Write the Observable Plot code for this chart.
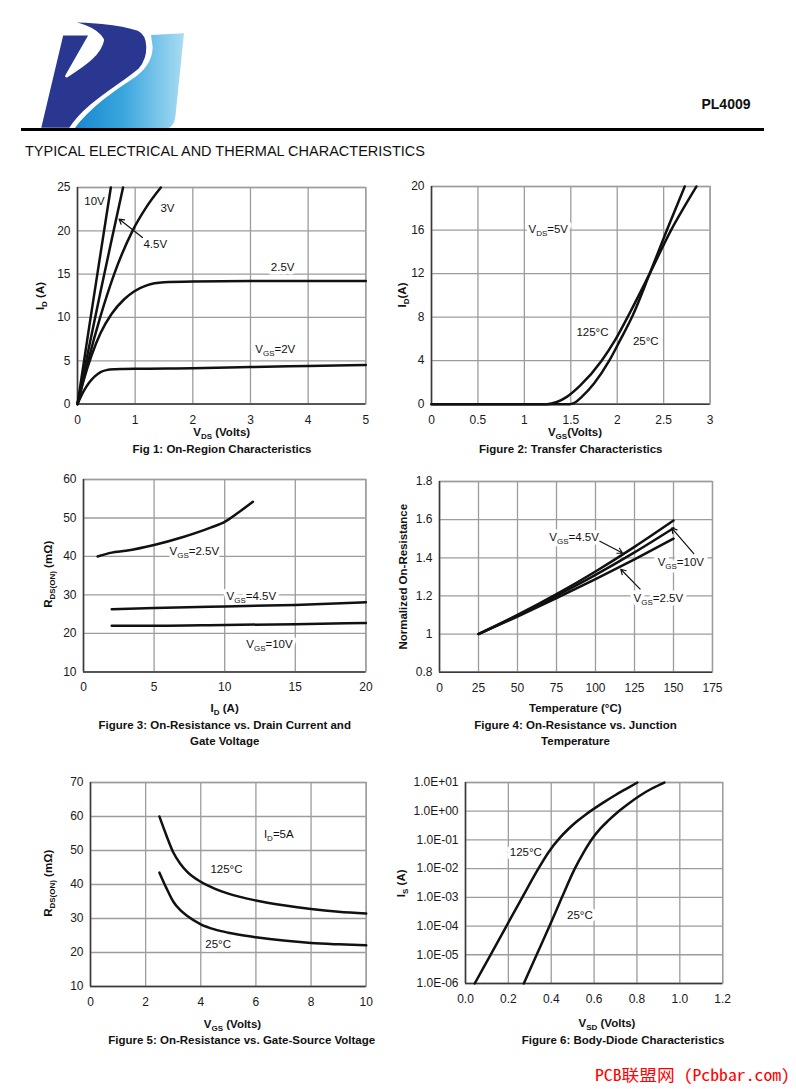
<!DOCTYPE html>
<html><head><meta charset="utf-8">
<script src="https://cdn.jsdelivr.net/npm/d3@7"></script>
<script src="https://cdn.jsdelivr.net/npm/@observablehq/plot@0.6"></script>
<style>
html,body{margin:0;padding:0;background:#fff;}
#page{position:relative;width:796px;height:1089px;overflow:hidden;background:#fff;}
</style></head><body><div id="page"></div>
<script>
// ---------------- DATA ----------------
// Fig 1: On-Region Characteristics (VDS in V, ID in A)
const fig1Vds10 = [0, 0.2, 0.4, 0.578];
const fig1Id10  = [0, 8.8, 17.4, 25];
const fig1Vds45 = [0, 0.2, 0.4, 0.6, 0.79];
const fig1Id45  = [0, 6.6, 13.0, 19.2, 25];
const fig1Vds3  = [0, 0.185, 0.393, 0.636, 0.954, 1.2, 1.445];
const fig1Id3   = [0, 5, 10, 15, 20, 22.8, 25];
const fig1Vds25 = [0, 0.1, 0.243, 0.4, 0.59, 0.81, 0.98, 1.2, 1.5, 2, 3, 4, 5];
const fig1Id25  = [0, 2.6, 5.6, 8.2, 10.4, 12.1, 13.0, 13.7, 14.05, 14.15, 14.2, 14.2, 14.2];
const fig1Vds2  = [0, 0.1, 0.2, 0.3, 0.4, 0.5, 0.65, 0.8, 1, 2, 3, 4, 5];
const fig1Id2   = [0, 1.4, 2.45, 3.2, 3.7, 3.92, 4.02, 4.05, 4.08, 4.15, 4.28, 4.4, 4.52];
const fig1XTicks = [0, 1, 2, 3, 4, 5];
const fig1YTicks = [0, 5, 10, 15, 20, 25];
const fig1Labels = [
  {x: 0.295, y: 23.46, t: "10V"}, {x: 1.56, y: 22.6, t: "3V"},
  {x: 1.348, y: 18.46, t: "4.5V"}, {x: 3.558, y: 15.84, t: "2.5V"},
  {x: 3.43, y: 6.27, t: "V_{GS}=2V"}];
const fig1Arrows = [{x1: 1.126, y1: 19.24, x2: 0.72, y2: 21.36}];

// Fig 2: Transfer Characteristics (VGS in V, ID in A)
const fig2Vgs125 = [0, 1.243, 1.35, 1.457, 1.6, 1.832, 1.975, 2.136, 2.35, 2.58, 2.72, 2.853];
const fig2Id125  = [0, 0, 0.2, 0.67, 1.7, 4, 5.86, 8.4, 12, 16, 18.1, 20];
const fig2Vgs25  = [0, 1.493, 1.55, 1.618, 1.75, 1.914, 2.03, 2.164, 2.35, 2.535, 2.727];
const fig2Id25   = [0, 0, 0.18, 0.67, 1.9, 4, 5.86, 8.1, 12, 16, 20];
const fig2XTicks = [0, 0.5, 1, 1.5, 2, 2.5, 3];
const fig2YTicks = [0, 4, 8, 12, 16, 20];
const fig2Labels = [
  {x: 1.257, y: 16.11, t: "V_{DS}=5V"}, {x: 1.733, y: 6.61, t: "125°C"},
  {x: 2.307, y: 5.79, t: "25°C"}];

// Fig 3: On-Resistance vs Drain Current (ID in A, R in mOhm)
const fig3Id25 = [1, 2, 3, 5, 7, 9, 10, 11, 12];
const fig3R25  = [40, 41, 41.5, 43, 45, 47.5, 49, 51.5, 54.2];
const fig3Id45 = [2, 5, 10, 15, 20];
const fig3R45  = [26.3, 26.6, 27, 27.4, 28.1];
const fig3Id10 = [2, 5, 10, 15, 20];
const fig3R10  = [22, 22, 22.2, 22.4, 22.7];
const fig3XTicks = [0, 5, 10, 15, 20];
const fig3YTicks = [10, 20, 30, 40, 50, 60];
const fig3Labels = [
  {x: 7.85, y: 41.4, t: "V_{GS}=2.5V"}, {x: 11.89, y: 29.7, t: "V_{GS}=4.5V"},
  {x: 13.17, y: 17.2, t: "V_{GS}=10V"}];

// Fig 4: Normalized On-Resistance vs Temperature
const fig4T   = [25, 50, 75, 100, 125, 150];
const fig4R45 = [1, 1.10, 1.209, 1.328, 1.457, 1.595];
const fig4R10 = [1, 1.096, 1.2, 1.31, 1.428, 1.555];
const fig4R25 = [1, 1.092, 1.188, 1.288, 1.392, 1.50];
const fig4XTicks = [0, 25, 50, 75, 100, 125, 150, 175];
const fig4YTicks = [0.8, 1, 1.2, 1.4, 1.6, 1.8];
const fig4Labels = [
  {x: 86.3, y: 1.508, t: "V_{GS}=4.5V"}, {x: 154.7, y: 1.377, t: "V_{GS}=10V"},
  {x: 140.3, y: 1.188, t: "V_{GS}=2.5V"}];
const fig4Arrows = [
  {x1: 102.8, y1: 1.487, x2: 117.3, y2: 1.425},
  {x1: 163, y1: 1.422, x2: 148.9, y2: 1.556},
  {x1: 128.6, y1: 1.236, x2: 116.2, y2: 1.34}];

// Fig 5: On-Resistance vs Gate-Source Voltage
const fig5Vgs  = [2.5, 2.75, 3, 3.25, 3.5, 4, 4.5, 5, 6, 7, 8, 9, 10];
const fig5R125 = [60, 54.5, 49.5, 46.2, 43.8, 40.8, 38.8, 37.3, 35.3, 33.9, 32.8, 32, 31.5];
const fig5R25  = [43.5, 39, 35, 32.5, 30.8, 28.3, 26.8, 25.8, 24.5, 23.5, 22.8, 22.4, 22.1];
const fig5XTicks = [0, 2, 4, 6, 8, 10];
const fig5YTicks = [10, 20, 30, 40, 50, 60, 70];
const fig5Labels = [
  {x: 6.83, y: 54.8, t: "I_{D}=5A"}, {x: 4.93, y: 44.5, t: "125°C"},
  {x: 4.63, y: 22.5, t: "25°C"}];

// Fig 6: Body-Diode Characteristics (VSD in V, IS in A)
const fig6Vsd125 = [0.043, 0.117, 0.191, 0.265, 0.34, 0.39, 0.44, 0.48, 0.519, 0.56, 0.6, 0.65, 0.7, 0.75, 0.802];
const fig6Is125  = [1e-6, 1e-5, 1e-4, 1e-3, 1e-2, 0.0398, 0.1175, 0.24, 0.437, 0.759, 1.23, 2.16, 3.67, 6.03, 10];
const fig6Vsd25  = [0.272, 0.332, 0.392, 0.45, 0.51, 0.55, 0.592, 0.63, 0.666, 0.715, 0.765, 0.813, 0.87, 0.928];
const fig6Is25   = [1e-6, 1e-5, 1e-4, 1e-3, 1e-2, 0.0355, 0.112, 0.251, 0.468, 1, 1.95, 3.47, 6.17, 10];
const fig6XTicks = [0, 0.2, 0.4, 0.6, 0.8, 1.0, 1.2];
const fig6YTicks = [1e-6, 1e-5, 1e-4, 1e-3, 1e-2, 1e-1, 1, 10];
const fig6Labels = [{x: 0.2815, y: 0.0383, t: "125°C"}, {x: 0.5336, y: 2.39e-4, t: "25°C"}];

// ---------------- HELPERS ----------------
const FONT = '"Liberation Sans", Arial, Helvetica, sans-serif';
const SVGNS = "http://www.w3.org/2000/svg";
const rows = (xs, ys, s) => xs.map((x, i) => ({x, y: ys[i], s}));

function fillRich(el, str, subSize, shift) {
  const parts = str.split(/(_\{[^}]*\})/).filter(Boolean);
  el.textContent = "";
  let down = false;
  for (const p of parts) {
    const ts = document.createElementNS(SVGNS, "tspan");
    if (p.startsWith("_{")) {
      ts.textContent = p.slice(2, -1);
      ts.setAttribute("font-size", subSize);
      ts.setAttribute("dy", shift);
      down = true;
    } else {
      ts.textContent = p;
      if (down) { ts.setAttribute("dy", -shift); down = false; }
    }
    el.appendChild(ts);
  }
}

const page = document.getElementById("page");
const ov = d3.select(page).append("svg")
  .attr("width", 796).attr("height", 1089)
  .style("position", "absolute").style("left", "0px").style("top", "0px");

function txt(str, x, y, o = {}) {
  const t = ov.append("text").attr("x", x).attr("y", y)
    .attr("font-family", o.family || FONT).attr("font-size", o.size || 11.5)
    .attr("font-weight", o.weight || "bold").attr("text-anchor", o.anchor || "middle")
    .attr("fill", o.fill || "#111");
  if (o.rotate) t.attr("transform", `rotate(-90 ${x} ${y})`);
  if (o.len) t.attr("textLength", o.len).attr("lengthAdjust", "spacingAndGlyphs");
  fillRich(t.node(), str, o.sub || 8, o.shift || 3);
  return t;
}

const GRID = "#9c9c9c";
function chart(cfg) {
  const ML = 60, MT = 12, MR = 16, MB = 32;
  const w = cfg.r - cfg.l, h = cfg.b - cfg.t;
  const xs = cfg.xTicks, ys = cfg.yTicks;
  const marks = [
    Plot.ruleX(xs, {stroke: GRID, strokeWidth: 1.3}),
    Plot.ruleY(ys, {stroke: GRID, strokeWidth: 1.3}),
    Plot.frame({stroke: GRID, strokeWidth: 1.3}),
    Plot.ruleX([xs[0]], {stroke: "#3a3a3a", strokeWidth: 1.5}),
    Plot.ruleY([ys[0]], {stroke: "#3a3a3a", strokeWidth: 1.5}),
    // white background behind annotation text
    Plot.text(cfg.labels, {x: "x", y: "y", text: "t", fontSize: 11.5, fill: "white",
      stroke: "white", strokeWidth: 7, strokeLinejoin: "round", textAnchor: "middle"}),
    Plot.line(cfg.data, {x: "x", y: "y", z: "s", stroke: "#111", strokeWidth: 2.5,
      curve: "monotone-x", strokeLinejoin: "round", strokeLinecap: "round"}),
    Plot.text(cfg.labels, {x: "x", y: "y", text: "t", fontSize: 11.5, fill: "#111", textAnchor: "middle"})
  ];
  if (cfg.arrows) marks.push(Plot.arrow(cfg.arrows, {x1: "x1", y1: "y1", x2: "x2", y2: "y2",
    stroke: "#111", strokeWidth: 1.2, headLength: 7}));
  const svg = Plot.plot({
    width: w + ML + MR, height: h + MT + MB,
    marginLeft: ML, marginTop: MT, marginRight: MR, marginBottom: MB,
    style: {fontFamily: FONT, fontSize: "12px", color: "#1a1a1a", background: "transparent", overflow: "visible"},
    x: {type: "linear", domain: cfg.xDomain, ticks: xs, tickFormat: cfg.xFormat || (d => String(d)),
        tickSize: 0, tickPadding: 11, label: null},
    y: {type: cfg.yType || "linear", domain: cfg.yDomain, ticks: ys, tickFormat: cfg.yFormat || (d => String(d)),
        tickSize: 0, tickPadding: 7, label: null},
    marks
  });
  svg.style.position = "absolute";
  svg.style.left = (cfg.l - ML) + "px";
  svg.style.top = (cfg.t - MT) + "px";
  svg.querySelectorAll("text").forEach(t => {
    if (t.textContent.includes("_{")) fillRich(t, t.textContent, 8, 3);
  });
  page.appendChild(svg);
}

// ---------------- PAGE DECORATION ----------------
const defs = ov.append("defs");
const grad = defs.append("linearGradient").attr("id", "lb").attr("x1", "0").attr("x2", "1").attr("y1", "0").attr("y2", "0");
grad.append("stop").attr("offset", "0").attr("stop-color", "#1786cc");
grad.append("stop").attr("offset", "0.45").attr("stop-color", "#3aa6de");
grad.append("stop").attr("offset", "1").attr("stop-color", "#a9dcf3");
const logo = ov.append("g").attr("transform", "translate(20,20) scale(0.3333)");
logo.append("path").attr("fill", "url(#lb)")
  .attr("d", "M393 45 L492 40 L466 292 C462 318 450 328 425 328 L160 330 C210 262 280 215 350 168 C385 140 398 110 398 80 Z");
logo.append("path").attr("fill", "#2a3791").attr("stroke", "white").attr("stroke-width", 9).attr("stroke-linejoin", "round")
  .attr("d", "M58 328 L126 42 L212 42 L140 168 C200 130 240 100 248 60 C230 25 170 8 118 3 C200 0 300 10 355 28 C392 45 392 110 360 148 C300 200 200 250 150 328 Z");

txt("PL4009", 750.5, 108.5, {size: 14, anchor: "end"});
ov.append("line").attr("x1", 21).attr("x2", 764).attr("y1", 129.5).attr("y2", 129.5)
  .attr("stroke", "#000").attr("stroke-width", 3);
txt("TYPICAL ELECTRICAL AND THERMAL CHARACTERISTICS", 25, 156, {size: 14.4, weight: "normal", anchor: "start", len: 400});

// axis titles and captions
txt("V_{DS} (Volts)", 221.7, 435.5);
txt("I_{D} (A)", 44, 296, {rotate: true});
txt("Fig 1: On-Region Characteristics", 222, 452.7);

txt("V_{GS}(Volts)", 575, 435.5);
txt("I_{D}(A)", 405.5, 295, {rotate: true});
txt("Figure 2: Transfer Characteristics", 570.8, 452.7);

txt("I_{D} (A)", 224.7, 712.3);
txt("R_{DS(ON)} (mΩ)", 52.5, 574.3, {rotate: true});
txt("Figure 3: On-Resistance vs. Drain Current and", 224.7, 729.3);
txt("Gate Voltage", 224.7, 745.3);

txt("Temperature (°C)", 575.3, 712.3);
txt("Normalized On-Resistance", 406.7, 576.7, {rotate: true});
txt("Figure 4: On-Resistance vs. Junction", 575.5, 729.3);
txt("Temperature", 575.5, 745.3);

txt("V_{GS} (Volts)", 232.5, 1027.7);
txt("R_{DS(ON)} (mΩ)", 52.5, 883.3, {rotate: true});
txt("Figure 5: On-Resistance vs. Gate-Source Voltage", 241.7, 1044.3);

txt("V_{SD} (Volts)", 607, 1026.7);
txt("I_{S} (A)", 405.5, 883.3, {rotate: true});
txt("Figure 6: Body-Diode Characteristics", 623, 1044.3);

txt("PCB联盟网 (Pcbbar.com)", 595, 1081, {size: 16, weight: "normal", anchor: "start", fill: "#ff0000",
  family: '"Noto Sans Mono CJK SC", "Noto Sans CJK SC", monospace', len: 195});

// ---------------- CHARTS ----------------
chart({l: 76.7, r: 365, t: 186.7, b: 403.3, xDomain: [0, 5], yDomain: [0, 25],
  xTicks: fig1XTicks, yTicks: fig1YTicks, labels: fig1Labels, arrows: fig1Arrows,
  data: [...rows(fig1Vds10, fig1Id10, "10V"), ...rows(fig1Vds45, fig1Id45, "4.5V"),
         ...rows(fig1Vds3, fig1Id3, "3V"), ...rows(fig1Vds25, fig1Id25, "2.5V"),
         ...rows(fig1Vds2, fig1Id2, "2V")]});

chart({l: 430.7, r: 709.3, t: 186, b: 403.7, xDomain: [0, 3], yDomain: [0, 20],
  xTicks: fig2XTicks, yTicks: fig2YTicks, labels: fig2Labels,
  data: [...rows(fig2Vgs125, fig2Id125, "125"), ...rows(fig2Vgs25, fig2Id25, "25")]});

chart({l: 83.3, r: 365.7, t: 479.3, b: 671.7, xDomain: [0, 20], yDomain: [10, 60],
  xTicks: fig3XTicks, yTicks: fig3YTicks, labels: fig3Labels,
  data: [...rows(fig3Id25, fig3R25, "2.5"), ...rows(fig3Id45, fig3R45, "4.5"), ...rows(fig3Id10, fig3R10, "10")]});

chart({l: 438.7, r: 711.7, t: 481, b: 671.7, xDomain: [0, 175], yDomain: [0.8, 1.8],
  xTicks: fig4XTicks, yTicks: fig4YTicks, labels: fig4Labels, arrows: fig4Arrows,
  data: [...rows(fig4T, fig4R45, "4.5"), ...rows(fig4T, fig4R10, "10"), ...rows(fig4T, fig4R25, "2.5")]});

chart({l: 90, r: 365.7, t: 781.7, b: 985.7, xDomain: [0, 10], yDomain: [10, 70],
  xTicks: fig5XTicks, yTicks: fig5YTicks, labels: fig5Labels,
  data: [...rows(fig5Vgs, fig5R125, "125"), ...rows(fig5Vgs, fig5R25, "25")]});

chart({l: 464.5, r: 721.7, t: 782.3, b: 983.3, xDomain: [0, 1.2], yDomain: [1e-6, 10], yType: "log",
  xTicks: fig6XTicks, yTicks: fig6YTicks, labels: fig6Labels,
  xFormat: d3.format(".1f"),
  yFormat: d => { const e = Math.round(Math.log10(d)); return "1.0E" + (e < 0 ? "-" : "+") + String(Math.abs(e)).padStart(2, "0"); },
  data: [...rows(fig6Vsd125, fig6Is125, "125"), ...rows(fig6Vsd25, fig6Is25, "25")]});
</script>
</body></html>
